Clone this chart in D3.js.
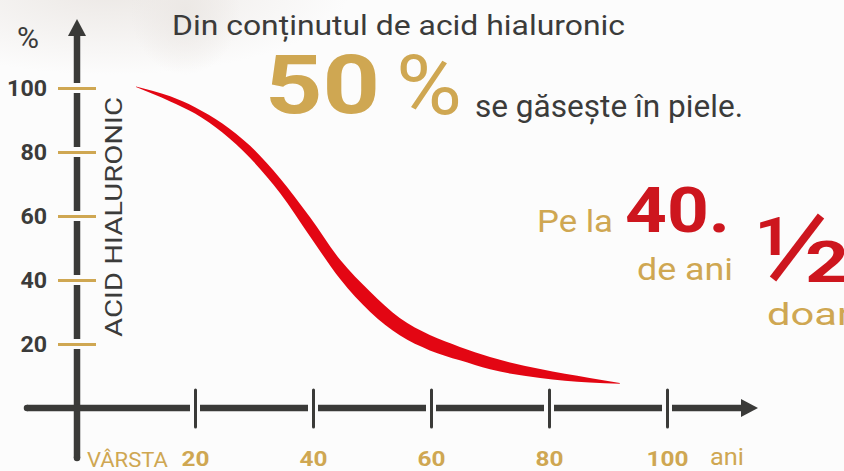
<!DOCTYPE html>
<html>
<head>
<meta charset="utf-8">
<script src="https://cdn.jsdelivr.net/npm/d3@7"></script>
<style>
  html, body { margin: 0; padding: 0; background: #fcfcfc; }
  svg { display: block; }
  text { font-family: Roboto, "Open Sans", sans-serif; }
</style>
</head>
<body>
<svg id="chart" width="844" height="471"></svg>
<script>
// ---- data ----
const ages  = [10, 15.8, 20, 29.3, 34.4, 39.5, 44.6, 49.7, 54.7, 59.8, 64.9, 70, 78.5, 86.9, 92];
const upper = [100.5, 97.4, 94.0, 82.0, 71.8, 59.6, 46.3, 36.3, 28.1, 22.8, 19.1, 15.9, 12.2, 9.4, 7.8];
const lower = [100.3, 95.8, 92.0, 78.2, 67.2, 53.6, 40.3, 30.0, 22.7, 18.0, 14.9, 12.1, 9.4, 8.0, 7.6];
const yTicks = [20, 40, 60, 80, 100];
const xTicks = [20, 40, 60, 80, 100];
const yUnit = "%";
const yTitle = "ACID HIALURONIC";
const xTitle = "VÂRSTA";
const xUnit = "ani";
const title1 = "Din conținutul de acid hialuronic";
const bigValue = "50";
const bigUnit = "%";
const title2 = "se găsește în piele.";
const note1 = "Pe la";
const noteAge = "40.";
const note2 = "de ani";
const fracNum = "1";
const fracDen = "2";
const note3 = "doar";

// ---- colours ----
const GOLD = "#cfa752", RED = "#cd161e", CURVE = "#e30613", DARK = "#3b3b3a", AXIS = "#3a3a38";

const svg = d3.select("#chart");

// background
const defs = svg.append("defs");
const rg = defs.append("radialGradient").attr("id", "bgGlow")
  .attr("cx", 0.5).attr("cy", 0.5).attr("r", 0.5);
rg.append("stop").attr("offset", "0%").attr("stop-color", "#ece8e5").attr("stop-opacity", 1);
rg.append("stop").attr("offset", "100%").attr("stop-color", "#ece8e5").attr("stop-opacity", 0);
svg.append("rect").attr("width", 844).attr("height", 471).attr("fill", "#fcfcfc");
svg.append("ellipse").attr("cx", 110).attr("cy", -10).attr("rx", 240).attr("ry", 85).attr("fill", "url(#bgGlow)");
svg.append("ellipse").attr("cx", 185).attr("cy", 10).attr("rx", 55).attr("ry", 65).attr("fill", "url(#bgGlow)");

// ---- scales ----
const x = d3.scaleLinear().domain([0, 100]).range([77, 667]);
const y = d3.scaleLinear().domain([0, 100]).range([408, 88]);

const x0 = x(0), y0 = y(0);
const gap = 5;

// ---- y axis dark line (segments between ticks) ----
const yArrowTip = 19, yArrowBase = 36;
const yBreaks = yTicks.map(v => y(v)).sort((a, b) => a - b);
let ySegs = [];
let prev = yArrowBase - 1;
yBreaks.forEach(p => { ySegs.push([prev, p - gap]); prev = p + gap; });
ySegs.push([prev, 458]);
svg.append("g").selectAll("line").data(ySegs).join("line")
  .attr("x1", x0).attr("x2", x0)
  .attr("y1", d => d[0]).attr("y2", d => d[1])
  .attr("stroke", AXIS).attr("stroke-width", 6.5)
  .attr("stroke-linecap", "butt");
svg.append("path")
  .attr("d", `M${x0},${yArrowTip} L${x0 + 9},${yArrowBase} L${x0 - 9},${yArrowBase} Z`)
  .attr("fill", AXIS);

// ---- x axis dark line ----
const xArrowTip = 758, xArrowBase = 741;
const xBreaks = xTicks.map(v => x(v));
let xSegs = [];
prev = 27;
xBreaks.forEach(p => { xSegs.push([prev, p - gap]); prev = p + gap; });
xSegs.push([prev, xArrowBase + 1]);
svg.append("g").selectAll("line").data(xSegs).join("line")
  .attr("y1", y0).attr("y2", y0)
  .attr("x1", d => d[0]).attr("x2", d => d[1])
  .attr("stroke", AXIS).attr("stroke-width", 6.5)
  .attr("stroke-linecap", "butt");
svg.append("circle").attr("cx", 27).attr("cy", y0).attr("r", 3.25).attr("fill", AXIS);
svg.append("circle").attr("cx", x0).attr("cy", 458).attr("r", 3.25).attr("fill", AXIS);
svg.append("path")
  .attr("d", `M${xArrowTip},${y0} L${xArrowBase},${y0 - 9} L${xArrowBase},${y0 + 9} Z`)
  .attr("fill", AXIS);

// ---- y axis ticks & labels (d3 axis) ----
const yAxis = d3.axisLeft(y).tickValues(yTicks).tickSize(38).tickPadding(11);
const gy = svg.append("g").attr("transform", `translate(${x0 + 19},0)`).call(yAxis);
gy.select(".domain").remove();
gy.selectAll(".tick line").attr("stroke", GOLD).attr("stroke-width", 3);
gy.selectAll(".tick text")
  .attr("fill", DARK).attr("font-size", 22).attr("font-weight", 700)
  .attr("font-family", "Roboto, sans-serif").attr("dy", "0.35em")
  .attr("textLength", d => String(d).length * 13.3)
  .attr("lengthAdjust", "spacingAndGlyphs");

// ---- x axis ticks & labels (d3 axis) ----
const xAxis = d3.axisBottom(x).tickValues(xTicks).tickSize(37).tickPadding(24);
const gx = svg.append("g").attr("transform", `translate(0,${y0 - 18})`).call(xAxis);
gx.select(".domain").remove();
gx.selectAll(".tick line").attr("stroke", AXIS).attr("stroke-width", 3).attr("stroke-linecap", "round");
gx.selectAll(".tick text")
  .attr("fill", GOLD).attr("font-size", 21).attr("font-weight", 700)
  .attr("font-family", "Roboto, sans-serif")
  .attr("textLength", d => String(d).length * 14)
  .attr("lengthAdjust", "spacingAndGlyphs");

// ---- axis titles ----
svg.append("text").attr("x", 28).attr("y", 48).attr("text-anchor", "middle")
  .attr("font-size", 30).attr("fill", DARK).text(yUnit);
svg.append("text").attr("transform", "translate(122,337) rotate(-90)")
  .attr("font-size", 24).attr("fill", DARK)
  .attr("textLength", 240).attr("lengthAdjust", "spacingAndGlyphs").text(yTitle);
svg.append("text").attr("x", 87).attr("y", 467)
  .attr("font-size", 21).attr("fill", GOLD)
  .attr("textLength", 81).attr("lengthAdjust", "spacingAndGlyphs").text(xTitle);
svg.append("text").attr("x", 710).attr("y", 465)
  .attr("font-size", 23).attr("fill", GOLD)
  .attr("textLength", 34).attr("lengthAdjust", "spacingAndGlyphs").text(xUnit);

// ---- curve (crescent band) ----
const band = ages.map((a, i) => ({ age: a, hi: upper[i], lo: lower[i] }));
const area = d3.area()
  .x(d => x(d.age)).y0(d => y(d.lo)).y1(d => y(d.hi))
  .curve(d3.curveMonotoneX);
svg.append("path").datum(band).attr("d", area).attr("fill", CURVE);

// ---- headline texts ----
svg.append("text").attr("x", 172).attr("y", 35)
  .attr("font-size", 28).attr("fill", DARK)
  .attr("textLength", 453).attr("lengthAdjust", "spacingAndGlyphs").text(title1);
svg.append("text").attr("x", 265).attr("y", 113)
  .attr("font-size", 82).attr("font-weight", 700).attr("fill", GOLD)
  .attr("textLength", 115).attr("lengthAdjust", "spacingAndGlyphs").text(bigValue);
svg.append("text").attr("x", 396).attr("y", 114)
  .attr("font-size", 84).attr("font-weight", 400).attr("fill", GOLD)
  .attr("textLength", 66).attr("lengthAdjust", "spacingAndGlyphs").text(bigUnit);
svg.append("text").attr("x", 475).attr("y", 117)
  .attr("font-size", 31).attr("fill", DARK)
  .attr("textLength", 268).attr("lengthAdjust", "spacingAndGlyphs").text(title2);

// ---- right note ----
svg.append("text").attr("x", 537).attr("y", 232)
  .attr("font-size", 32).attr("fill", GOLD)
  .attr("textLength", 76).attr("lengthAdjust", "spacingAndGlyphs").text(note1);
svg.append("text").attr("x", 625).attr("y", 232)
  .attr("font-size", 63).attr("font-weight", 700).attr("fill", RED)
  .attr("textLength", 105).attr("lengthAdjust", "spacingAndGlyphs").text(noteAge);
svg.append("text").attr("x", 637).attr("y", 280)
  .attr("font-size", 32).attr("fill", GOLD)
  .attr("textLength", 96).attr("lengthAdjust", "spacingAndGlyphs").text(note2);
svg.append("text").attr("x", 755).attr("y", 255)
  .attr("font-size", 54).attr("font-weight", 700).attr("fill", RED)
  .attr("textLength", 36).attr("lengthAdjust", "spacingAndGlyphs").text(fracNum);
svg.append("line").attr("x1", 773).attr("y1", 279).attr("x2", 821).attr("y2", 216)
  .attr("stroke", RED).attr("stroke-width", 8);
svg.append("text").attr("x", 805).attr("y", 282)
  .attr("font-size", 58).attr("font-weight", 700).attr("fill", RED)
  .attr("textLength", 44).attr("lengthAdjust", "spacingAndGlyphs").text(fracDen);
svg.append("text").attr("x", 767).attr("y", 325)
  .attr("font-size", 32).attr("fill", GOLD)
  .attr("textLength", 84).attr("lengthAdjust", "spacingAndGlyphs").text(note3);
</script>
</body>
</html>
